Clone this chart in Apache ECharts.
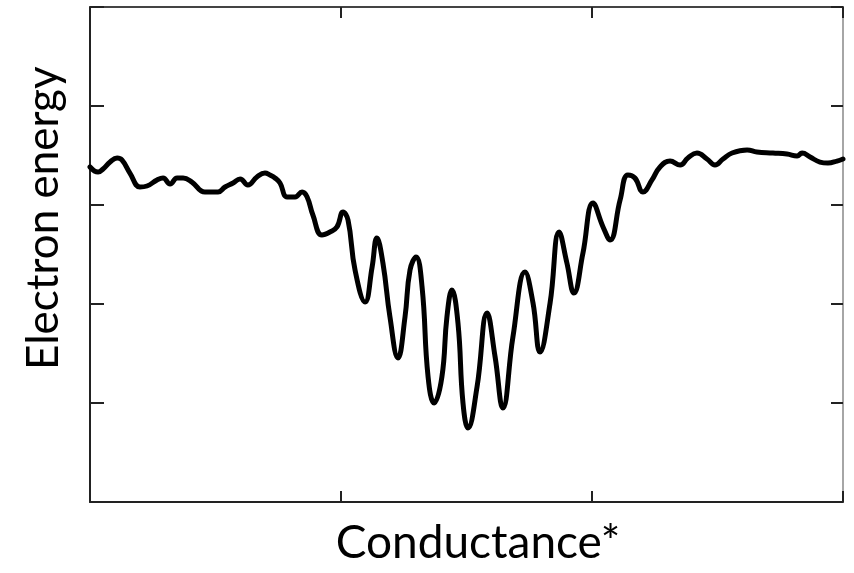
<!DOCTYPE html>
<html>
<head>
<meta charset="utf-8">
<script src="https://cdn.jsdelivr.net/npm/echarts@6/dist/echarts.min.js"></script>
<style>html,body{margin:0;padding:0;background:#fff;}#c{width:854px;height:573px;}</style>
</head>
<body>
<div id="c"></div>
<script>
// Conductance (x) values, arbitrary units 0..3
var xs = [0,0.032,0.052,0.080,0.108,0.127,0.159,0.199,0.227,0.267,0.291,0.319,0.347,0.371,0.406,0.458,0.510,0.538,0.570,0.598,0.629,0.665,0.697,0.717,0.737,0.757,0.785,0.817,0.845,0.865,0.888,0.924,0.956,0.984,1.008,1.028,1.056,1.096,1.124,1.143,1.167,1.195,1.227,1.255,1.275,1.299,1.323,1.347,1.371,1.402,1.422,1.442,1.466,1.486,1.506,1.542,1.582,1.614,1.645,1.685,1.733,1.765,1.793,1.833,1.869,1.900,1.928,1.964,2.004,2.044,2.072,2.112,2.143,2.171,2.203,2.239,2.271,2.311,2.351,2.382,2.418,2.458,2.490,2.522,2.558,2.618,2.657,2.721,2.777,2.817,2.837,2.869,2.908,2.940,2.976,3.0];
// Electron energy (y) values, arbitrary units 0..5
var ys = [3.384,3.333,3.364,3.434,3.475,3.455,3.323,3.182,3.192,3.253,3.273,3.212,3.273,3.273,3.232,3.131,3.131,3.182,3.222,3.263,3.202,3.283,3.323,3.303,3.273,3.222,3.081,3.081,3.131,3.081,2.899,2.697,2.727,2.778,2.929,2.848,2.343,2.020,2.374,2.667,2.414,1.869,1.455,1.869,2.343,2.475,2.172,1.263,1.0,1.263,1.869,2.141,1.808,1.0,0.747,1.162,1.909,1.465,0.949,1.667,2.323,2.010,1.515,2.010,2.727,2.414,2.111,2.515,3.020,2.778,2.646,3.051,3.303,3.273,3.131,3.253,3.384,3.444,3.404,3.475,3.525,3.465,3.404,3.465,3.525,3.556,3.535,3.525,3.515,3.495,3.525,3.485,3.434,3.424,3.444,3.465];
var xTitle = 'Conductance*';
var yTitle = 'Electron energy';

var pts = xs.map(function(x, i){ return [x, ys[i]]; });
var chart = echarts.init(document.getElementById('c'), null, {renderer:'canvas'});
function ax(pos, lineColor, lineW, tickLen, extra){
  return Object.assign({
    type:'value', position:pos,
    axisLine:{show:true, onZero:false, lineStyle:{color:lineColor, width:lineW}},
    axisTick:{show:true, inside:true, length:tickLen, lineStyle:{color:'#222', width:2}},
    axisLabel:{show:false}, splitLine:{show:false}
  }, extra);
}
chart.setOption({
  animation:false,
  backgroundColor:'#fff',
  grid:{left:90, right:11, top:7, bottom:71, containLabel:false},
  xAxis:[
    ax('bottom','#222',2,11,{min:0,max:3,interval:1}),
    ax('top','#444',2,11,{min:0,max:3,interval:1})
  ],
  yAxis:[
    ax('left','#222',2,14,{min:0,max:5,interval:1}),
    ax('right','#888',1.5,12,{min:0,max:5,interval:1})
  ],
  graphic:[
    {type:'text', x:478, y:520, style:{text:xTitle, font:'46px Lato', fill:'#000', textAlign:'center'}},
    {type:'text', rotation:Math.PI/2, x:22, y:370, style:{text:yTitle, font:'44px Lato', fill:'#000'}}
  ],
  series:[{
    type:'line', data:pts, showSymbol:false, smooth:0.45,
    lineStyle:{color:'#000', width:5, cap:'round', join:'round'}
  }]
});
</script>
</body>
</html>
